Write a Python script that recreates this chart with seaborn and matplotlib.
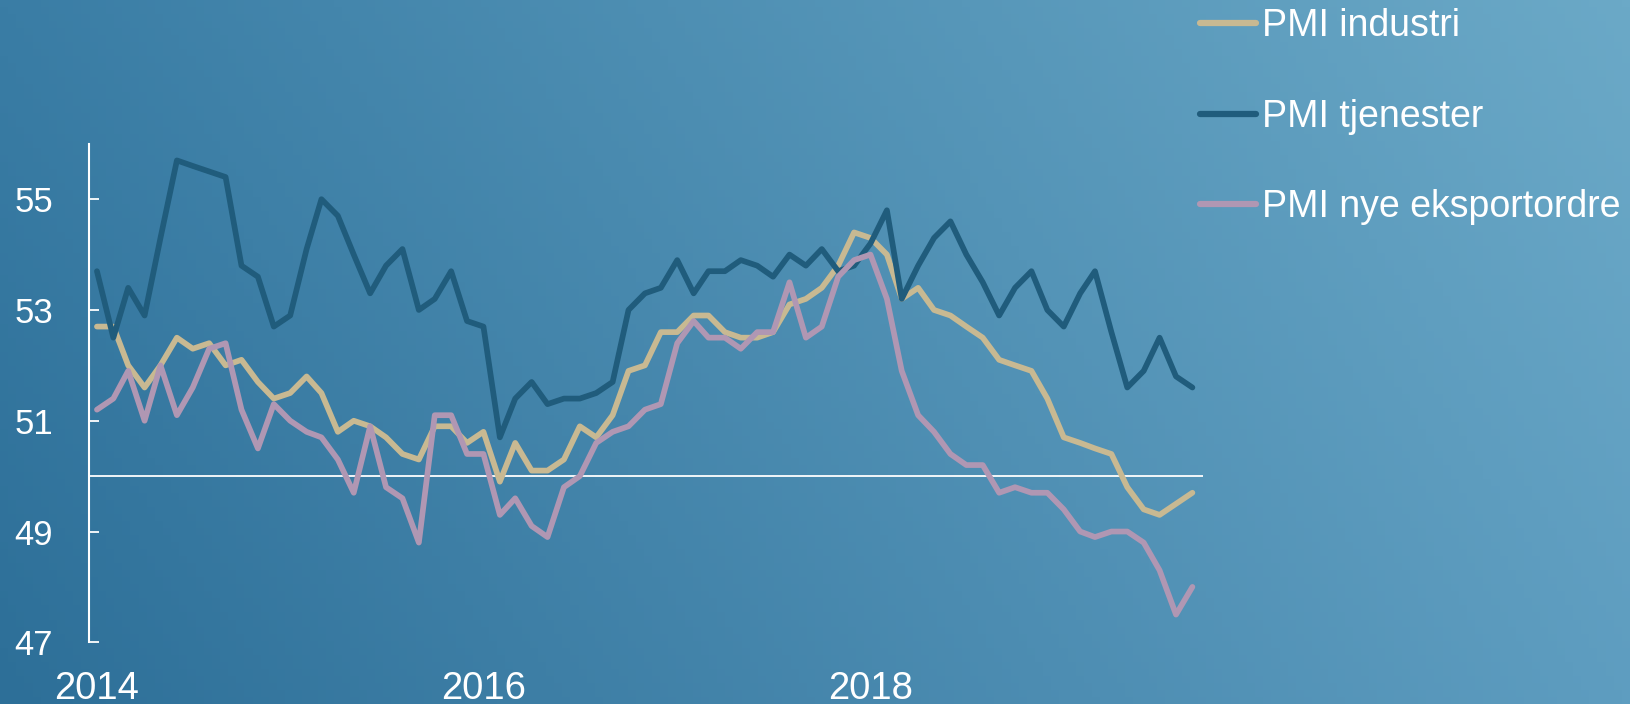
import numpy as np
import pandas as pd
import matplotlib
matplotlib.use("Agg")
import matplotlib.pyplot as plt
import seaborn as sns

sns.set_theme(style="white")
plt.rcParams['font.family'] = ['Liberation Sans', 'DejaVu Sans']

# Monthly PMI values, Jan 2014 - Sep 2019
months = pd.date_range("2014-01-01", periods=69, freq="MS")

pmi_industri = [
    52.7, 52.7, 52.0, 51.6, 52.0, 52.5, 52.3, 52.4, 52.0, 52.1, 51.7, 51.4,
    51.5, 51.8, 51.5, 50.8, 51.0, 50.9, 50.7, 50.4, 50.3, 50.9, 50.9, 50.6,
    50.8, 49.9, 50.6, 50.1, 50.1, 50.3, 50.9, 50.7, 51.1, 51.9, 52.0, 52.6,
    52.6, 52.9, 52.9, 52.6, 52.5, 52.5, 52.6, 53.1, 53.2, 53.4, 53.8, 54.4,
    54.3, 54.0, 53.2, 53.4, 53.0, 52.9, 52.7, 52.5, 52.1, 52.0, 51.9, 51.4,
    50.7, 50.6, 50.5, 50.4, 49.8, 49.4, 49.3, 49.5, 49.7,
]
pmi_tjenester = [
    53.7, 52.5, 53.4, 52.9, 54.3, 55.7, 55.6, 55.5, 55.4, 53.8, 53.6, 52.7,
    52.9, 54.1, 55.0, 54.7, 54.0, 53.3, 53.8, 54.1, 53.0, 53.2, 53.7, 52.8,
    52.7, 50.7, 51.4, 51.7, 51.3, 51.4, 51.4, 51.5, 51.7, 53.0, 53.3, 53.4,
    53.9, 53.3, 53.7, 53.7, 53.9, 53.8, 53.6, 54.0, 53.8, 54.1, 53.7, 53.8,
    54.2, 54.8, 53.2, 53.8, 54.3, 54.6, 54.0, 53.5, 52.9, 53.4, 53.7, 53.0,
    52.7, 53.3, 53.7, 52.6, 51.6, 51.9, 52.5, 51.8, 51.6,
]
pmi_eksport = [
    51.2, 51.4, 51.9, 51.0, 52.0, 51.1, 51.6, 52.3, 52.4, 51.2, 50.5, 51.3,
    51.0, 50.8, 50.7, 50.3, 49.7, 50.9, 49.8, 49.6, 48.8, 51.1, 51.1, 50.4,
    50.4, 49.3, 49.6, 49.1, 48.9, 49.8, 50.0, 50.6, 50.8, 50.9, 51.2, 51.3,
    52.4, 52.8, 52.5, 52.5, 52.3, 52.6, 52.6, 53.5, 52.5, 52.7, 53.6, 53.9,
    54.0, 53.2, 51.9, 51.1, 50.8, 50.4, 50.2, 50.2, 49.7, 49.8, 49.7, 49.7,
    49.4, 49.0, 48.9, 49.0, 49.0, 48.8, 48.3, 47.5, 48.0,
]

series_names = ["PMI industri", "PMI tjenester", "PMI nye eksportordre"]
colors = {"PMI industri": "#C8B992", "PMI tjenester": "#205C7C",
          "PMI nye eksportordre": "#B097B3"}

df = pd.DataFrame({"Dato": months, series_names[0]: pmi_industri,
                   series_names[1]: pmi_tjenester, series_names[2]: pmi_eksport})
long_df = df.melt(id_vars="Dato", var_name="Serie", value_name="PMI")

fig = plt.figure(figsize=(16.3, 7.04), dpi=100)

# Diagonal gradient background (dark bottom-left, light top-right)
bg = fig.add_axes([0, 0, 1, 1], zorder=-10)
tl = np.array([0x3A, 0x7D, 0xA5]) / 255
bl = np.array([0x2D, 0x6F, 0x98]) / 255
tr = np.array([0x6B, 0xA9, 0xC7]) / 255
br = np.array([0x5E, 0x9D, 0xC0]) / 255
u = np.linspace(0, 1, 200)[None, :, None]
v = np.linspace(0, 1, 100)[:, None, None]
grad = (1 - v) * ((1 - u) * tl + u * tr) + v * ((1 - u) * bl + u * br)
bg.imshow(grad, aspect="auto", extent=[0, 1, 0, 1], origin="upper")
bg.axis("off")

ax = fig.add_axes([89 / 1630, 1 - 642.3 / 704, (1203 - 89) / 1630, (642.3 - 143.8) / 704])
ax.patch.set_alpha(0)

ax.axhline(50, color="white", lw=1.3, zorder=1)
sns.lineplot(data=long_df, x="Dato", y="PMI", hue="Serie", hue_order=series_names,
             palette=colors, linewidth=4.1, ax=ax, zorder=3)

ax.set_ylim(47, 56)
ax.set_xlim(pd.Timestamp("2013-12-17"), pd.Timestamp("2019-09-21"))
ax.set_yticks([47, 49, 51, 53, 55])
ax.set_xticks(pd.to_datetime(["2014-01-01", "2016-01-01", "2018-01-01"]))
ax.set_xticklabels(["2014", "2016", "2018"])
ax.set_xlabel("")
ax.set_ylabel("")

for side in ["top", "right", "bottom"]:
    ax.spines[side].set_visible(False)
ax.spines["left"].set_color("white")
ax.spines["left"].set_linewidth(1.5)

ax.tick_params(axis="y", direction="in", length=7, width=1.3, color="white",
               labelcolor="white", labelsize=25, pad=26, left=True)
ax.tick_params(axis="x", length=0, labelcolor="white", labelsize=27.5, pad=21)

leg = ax.legend(loc="upper left", bbox_to_anchor=(1200 / 1630, 0.988),
                bbox_transform=fig.transFigure, frameon=False, fontsize=27,
                handlelength=1.5, handletextpad=0.15, labelspacing=1.45,
                borderpad=0, borderaxespad=0)
for line in leg.get_lines():
    line.set_linewidth(4.5)
    line.set_solid_capstyle("round")
for text in leg.get_texts():
    text.set_color("white")

fig.savefig("out.png", dpi=100)
